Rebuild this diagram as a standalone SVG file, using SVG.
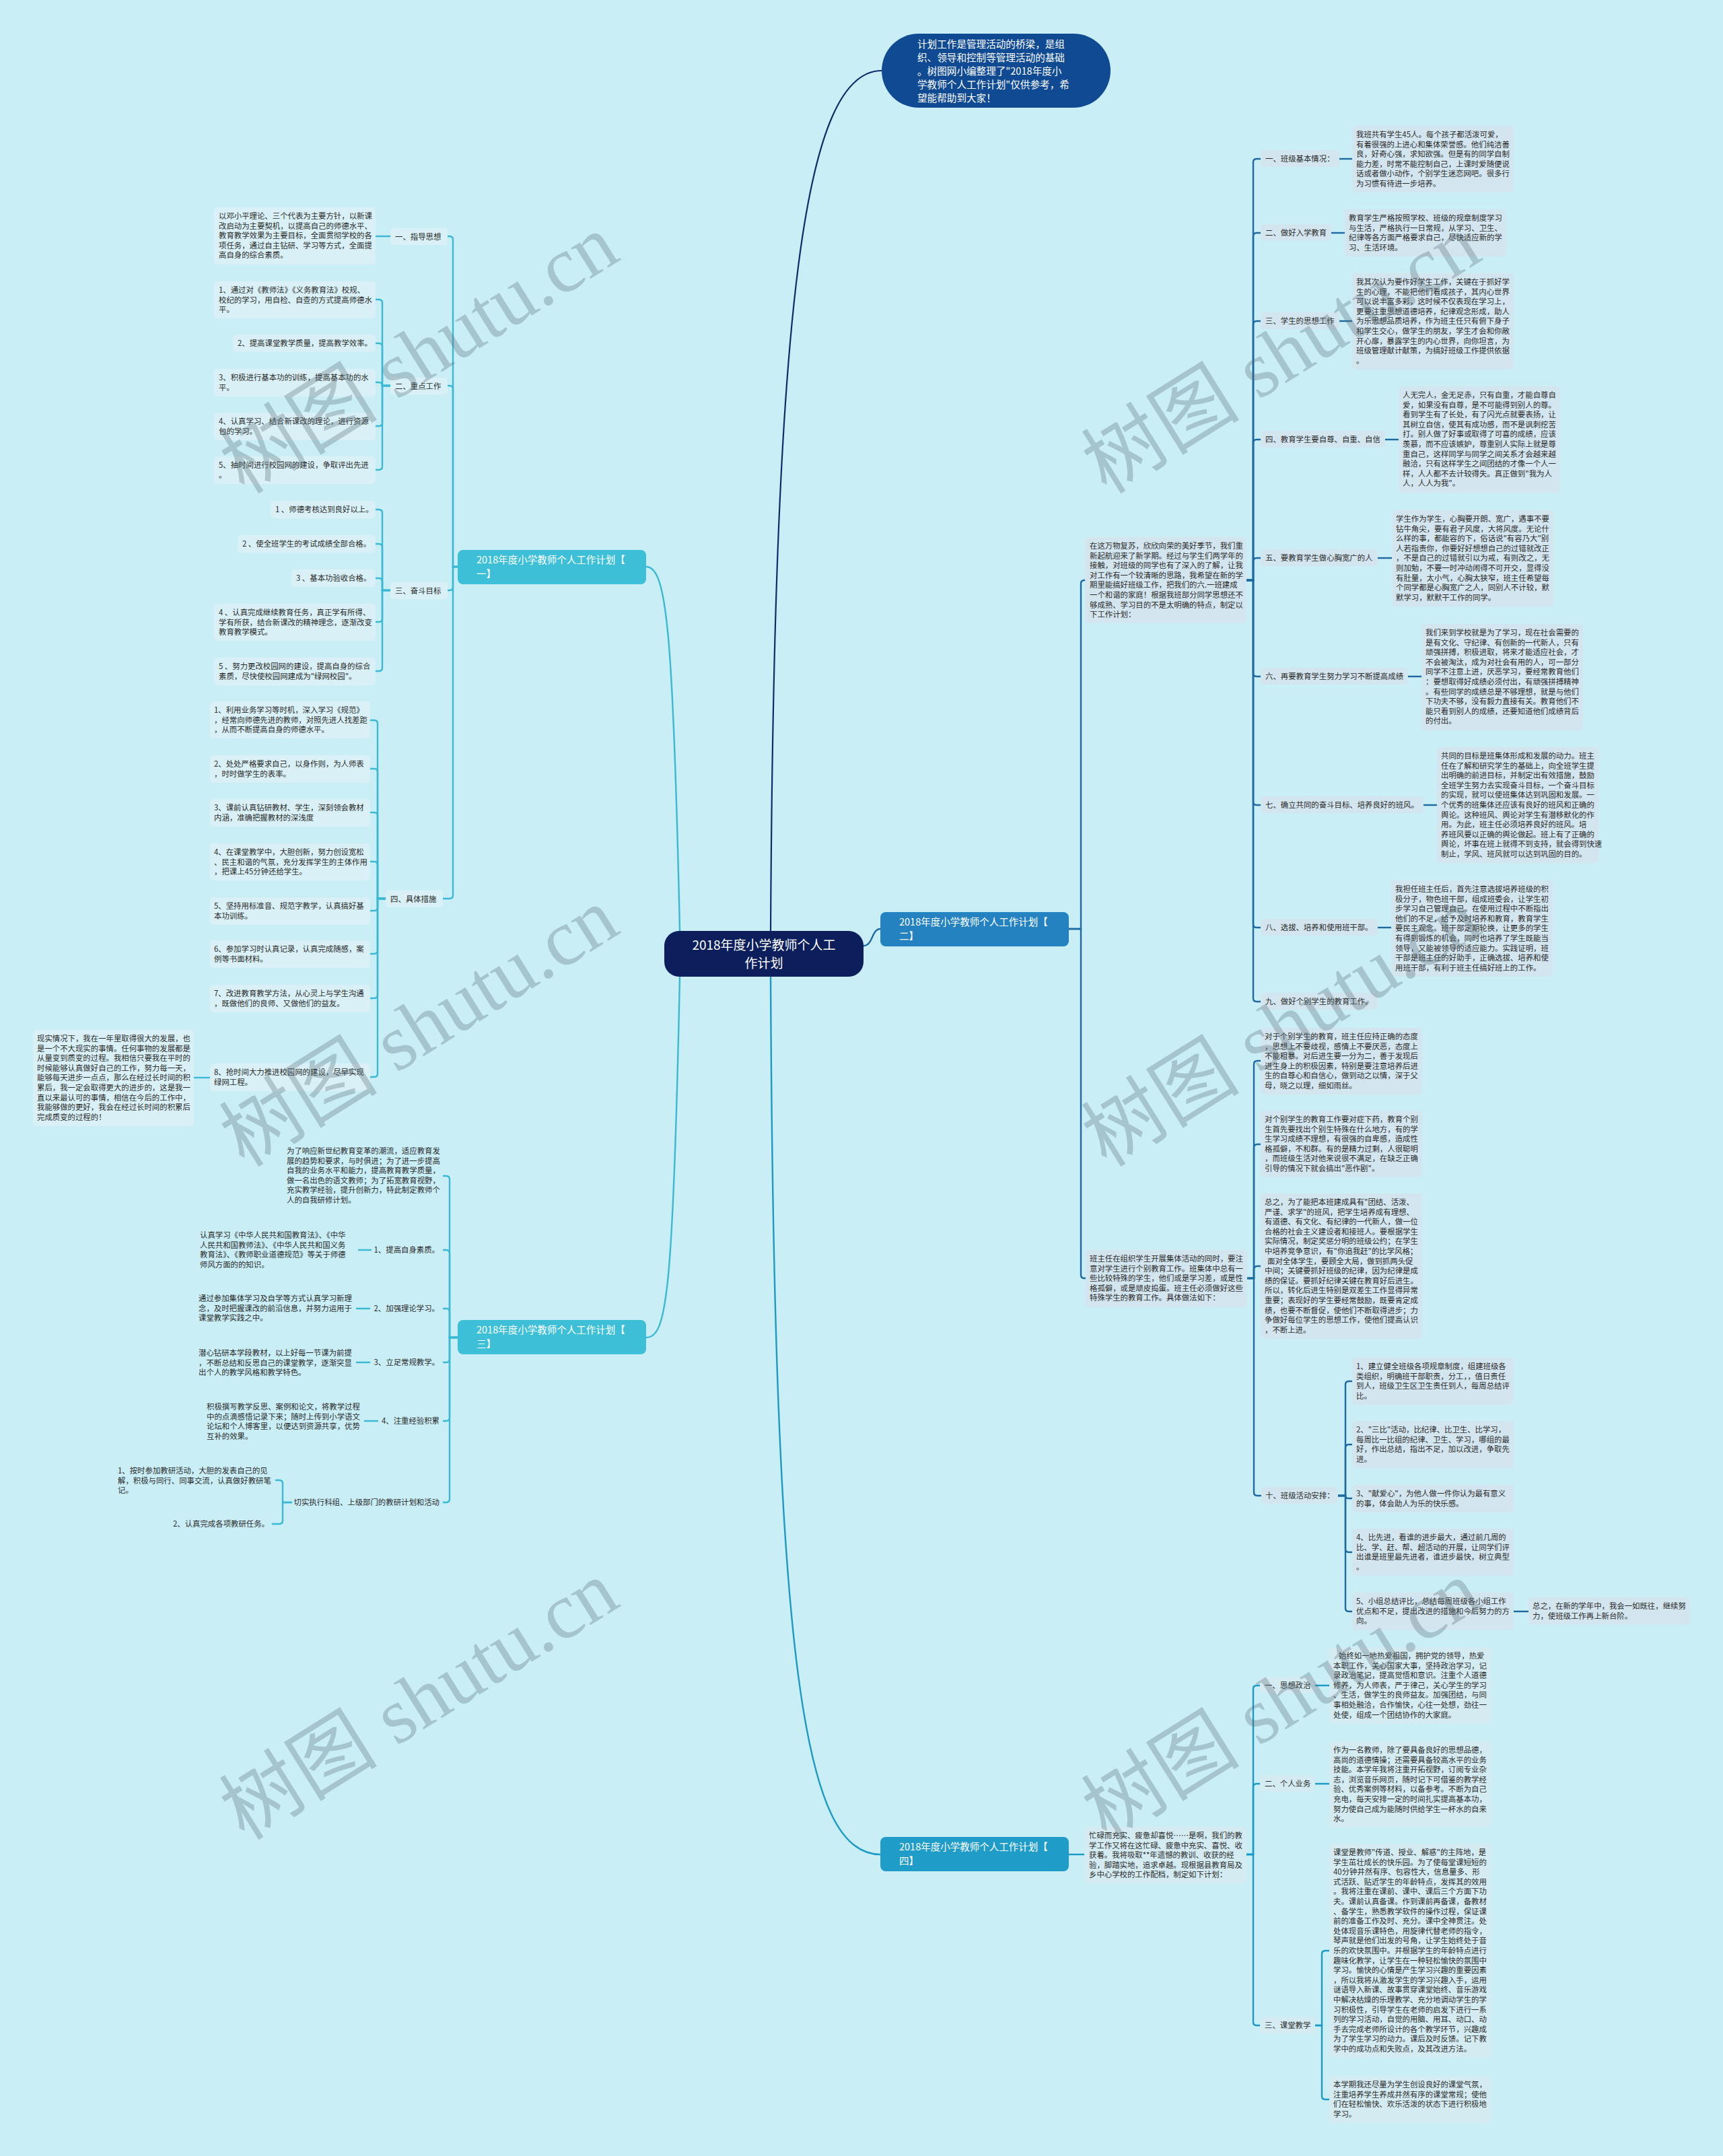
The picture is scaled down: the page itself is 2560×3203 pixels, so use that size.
<svg xmlns="http://www.w3.org/2000/svg" width="2560" height="3203" viewBox="0 0 2560 3203">
<style>
.t{font-family:"Noto Sans CJK SC","Noto Sans",sans-serif;font-size:11.4px;fill:#2b2b2b}
.w{font-family:"Noto Sans CJK SC","Noto Sans",sans-serif;fill:#ffffff}
.bx1{fill:#d9f1f6}
.bx2{fill:#d3e5ee}
.bx4{fill:#d5ebf2}
.c0{fill:none;stroke:#112b6a;stroke-width:2.2}
.c1{fill:none;stroke:#39b9d4;stroke-width:2.4}
.c2{fill:none;stroke:#1c6aa0;stroke-width:2.4}
.c4{fill:none;stroke:#1b9ac5;stroke-width:2.4}
.wm{font-family:"Liberation Serif","Noto Sans CJK SC",serif;font-size:118px;fill:#5a6e78;opacity:.32}
</style>
<rect x="0" y="0" width="2560" height="3203" fill="#c9eef6"/>

<g id="connectors">
<path class="c0" d="M1145,1383 C1150,450 1195,105 1310,105"/>
<path class="c1" d="M1010,1383 C1000,930 990,842 960,842"/>
<path class="c1" d="M1010,1451 C1000,1930 990,1987 960,1987"/>
<path class="c2" d="M1283,1405 C1297,1405 1295,1380 1308,1380"/>
<path class="c4" d="M1145,1451 C1150,2480 1195,2755 1308,2755"/>

<path class="c1" d="M680,842 H673 V356 Q673,351 668,351 H665"/>
<path class="c1" d="M680,842 H673 V578 Q673,573 668,573 H665"/>
<path class="c1" d="M680,842 H673 V872 Q673,877 668,877 H665"/>
<path class="c1" d="M680,842 H673 V1330 Q673,1335 668,1335 H658"/>
<path class="c1" d="M558,351 H580"/>
<path class="c1" d="M580,573 H568 V450 Q568,445 563,445 H558"/>
<path class="c1" d="M580,573 H568 V515 Q568,510 563,510 H558"/>
<path class="c1" d="M580,573 H568 V573 Q568,568 563,568 H558"/>
<path class="c1" d="M580,573 H568 V628 Q568,633 563,633 H558"/>
<path class="c1" d="M580,573 H568 V693 Q568,698 563,698 H558"/>
<path class="c1" d="M580,877 H568 V762 Q568,757 563,757 H558"/>
<path class="c1" d="M580,877 H568 V813 Q568,808 563,808 H558"/>
<path class="c1" d="M580,877 H568 V864 Q568,859 563,859 H558"/>
<path class="c1" d="M580,877 H568 V919 Q568,924 563,924 H558"/>
<path class="c1" d="M580,877 H568 V992 Q568,997 563,997 H558"/>
<path class="c1" d="M573,1335 H561 V1075 Q561,1070 556,1070 H550"/>
<path class="c1" d="M573,1335 H561 V1147 Q561,1142 556,1142 H550"/>
<path class="c1" d="M573,1335 H561 V1212 Q561,1207 556,1207 H550"/>
<path class="c1" d="M573,1335 H561 V1285 Q561,1280 556,1280 H550"/>
<path class="c1" d="M573,1335 H561 V1348 Q561,1353 556,1353 H550"/>
<path class="c1" d="M573,1335 H561 V1412 Q561,1417 556,1417 H550"/>
<path class="c1" d="M573,1335 H561 V1478 Q561,1483 556,1483 H550"/>
<path class="c1" d="M573,1335 H561 V1595 Q561,1600 556,1600 H550"/>
<path class="c1" d="M288,1601 H312"/>

<path class="c1" d="M680,1987 H668 V1752 Q668,1747 663,1747 H658"/>
<path class="c1" d="M680,1987 H668 V1862 Q668,1857 663,1857 H658"/>
<path class="c1" d="M680,1987 H668 V1949 Q668,1944 663,1944 H658"/>
<path class="c1" d="M680,1987 H668 V2019 Q668,2024 663,2024 H658"/>
<path class="c1" d="M680,1987 H668 V2106 Q668,2111 663,2111 H658"/>
<path class="c1" d="M680,1987 H668 V2227 Q668,2232 663,2232 H658"/>
<path class="c1" d="M532,1857 H552"/>
<path class="c1" d="M529,1944 H550"/>
<path class="c1" d="M529,2024 H550"/>
<path class="c1" d="M541,2111 H562"/>
<path class="c1" d="M434,2232 H420 V2204 Q420,2199 415,2199 H409"/>
<path class="c1" d="M434,2232 H420 V2259 Q420,2264 415,2264 H404"/>

<path class="c2" d="M1588,1380 H1606 V867 Q1606,862 1611,862 H1612"/>
<path class="c2" d="M1588,1380 H1606 V1894 Q1606,1899 1611,1899 H1613"/>
<path class="c2" d="M1852,862 H1862 V241 Q1862,236 1867,236 H1873"/>
<path class="c2" d="M1852,862 H1862 V351 Q1862,346 1867,346 H1873"/>
<path class="c2" d="M1852,862 H1862 V482 Q1862,477 1867,477 H1873"/>
<path class="c2" d="M1852,862 H1862 V658 Q1862,653 1867,653 H1873"/>
<path class="c2" d="M1852,862 H1862 V834 Q1862,829 1867,829 H1873"/>
<path class="c2" d="M1852,862 H1862 V1000 Q1862,1005 1867,1005 H1873"/>
<path class="c2" d="M1852,862 H1862 V1191 Q1862,1196 1867,1196 H1873"/>
<path class="c2" d="M1852,862 H1862 V1373 Q1862,1378 1867,1378 H1873"/>
<path class="c2" d="M1852,862 H1862 V1483 Q1862,1488 1867,1488 H1873"/>
<path class="c2" d="M1990,236 H2009"/>
<path class="c2" d="M1978,346 H1998"/>
<path class="c2" d="M1990,477 H2009"/>
<path class="c2" d="M2058,653 H2078"/>
<path class="c2" d="M2047,829 H2068"/>
<path class="c2" d="M2092,1005 H2112"/>
<path class="c2" d="M2115,1196 H2135"/>
<path class="c2" d="M2047,1378 H2067"/>
<path class="c2" d="M1853,1899 H1863 V1581 Q1863,1576 1868,1576 H1873"/>
<path class="c2" d="M1853,1899 H1863 V1705 Q1863,1700 1868,1700 H1873"/>
<path class="c2" d="M1853,1899 H1863 V1886 Q1863,1881 1868,1881 H1873"/>
<path class="c2" d="M1853,1899 H1863 V2217 Q1863,2222 1868,2222 H1874"/>
<path class="c2" d="M1988,2222 H1999 V2057 Q1999,2052 2004,2052 H2009"/>
<path class="c2" d="M1988,2222 H1999 V2151 Q1999,2146 2004,2146 H2009"/>
<path class="c2" d="M1988,2222 H1999 V2222 Q1999,2226 2003,2226 H2009"/>
<path class="c2" d="M1988,2222 H1999 V2301 Q1999,2306 2004,2306 H2009"/>
<path class="c2" d="M1988,2222 H1999 V2389 Q1999,2394 2004,2394 H2009"/>
<path class="c2" d="M2248,2394 H2271"/>

<path class="c4" d="M1588,2755 H1611"/>
<path class="c4" d="M1852,2755 H1862 V2509 Q1862,2504 1867,2504 H1872"/>
<path class="c4" d="M1852,2755 H1862 V2655 Q1862,2650 1867,2650 H1872"/>
<path class="c4" d="M1852,2755 H1862 V3004 Q1862,3009 1867,3009 H1872"/>
<path class="c4" d="M1954,2504 H1975"/>
<path class="c4" d="M1954,2650 H1975"/>
<path class="c4" d="M1954,3009 H1964 V2903 Q1964,2898 1969,2898 H1975"/>
<path class="c4" d="M1954,3009 H1964 V3114 Q1964,3119 1969,3119 H1975"/>
</g>

<g id="center">
<rect x="987" y="1383" width="296" height="68" rx="22" fill="#0c1f5c"/>
<text class="w" font-size="19" text-anchor="middle"><tspan x="1135" y="1411">2018年度小学教师个人工</tspan><tspan x="1135" y="1438">作计划</tspan></text>
</g>

<g id="intro">
<rect x="1310" y="50" width="340" height="110" rx="55" fill="#0f4a92"/>
<text class="w" font-size="14.6"><tspan x="1363" y="71">计划工作是管理活动的桥梁，是组</tspan><tspan x="1363" y="91">织、领导和控制等管理活动的基础</tspan><tspan x="1363" y="111">。树图网小编整理了"2018年度小</tspan><tspan x="1363" y="131">学教师个人工作计划"仅供参考，希</tspan><tspan x="1363" y="151">望能帮助到大家！</tspan></text>
</g>

<g id="b1">
<rect x="680" y="817" width="280" height="51" rx="8" fill="#3dbfd8"/>
<text class="w" font-size="14.5"><tspan x="708" y="837">2018年度小学教师个人工作计划【</tspan><tspan x="708" y="858">一】</tspan></text>
</g>
<g id="b2">
<rect x="1308" y="1355" width="280" height="51" rx="8" fill="#2382bf"/>
<text class="w" font-size="14.5"><tspan x="1336" y="1375">2018年度小学教师个人工作计划【</tspan><tspan x="1336" y="1396">二】</tspan></text>
</g>
<g id="b3">
<rect x="680" y="1961" width="280" height="51" rx="8" fill="#3dbfd8"/>
<text class="w" font-size="14.5"><tspan x="708" y="1981">2018年度小学教师个人工作计划【</tspan><tspan x="708" y="2002">三】</tspan></text>
</g>
<g id="b4">
<rect x="1308" y="2729" width="280" height="51" rx="8" fill="#1f9cc8"/>
<text class="w" font-size="14.5"><tspan x="1336" y="2749">2018年度小学教师个人工作计划【</tspan><tspan x="1336" y="2770">四】</tspan></text>
</g>

<!-- branch 1 -->
<g id="b1-1">
<rect class="bx1" x="580" y="339" width="85" height="25" rx="5"/><text class="t" x="587" y="356">一、指导思想</text>
</g>
<g id="b1-1-a">
<rect class="bx1" x="318" y="308" width="240" height="85" rx="5"/>
<text class="t"><tspan x="325" y="325">以邓小平理论、三个代表为主要方针，以新课</tspan><tspan x="325" dy="14.6">改启动为主要契机，以提高自己的师德水平、</tspan><tspan x="325" dy="14.6">教育教学效果为主要目标，全面贯彻学校的各</tspan><tspan x="325" dy="14.6">项任务，通过自主钻研、学习等方式，全面提</tspan><tspan x="325" dy="14.6">高自身的综合素质。</tspan></text>
</g>
<g id="b1-2">
<rect class="bx1" x="580" y="561" width="85" height="25" rx="5"/><text class="t" x="587" y="578">二、重点工作</text>
</g>
<g id="b1-2-1"><rect class="bx1" x="318" y="418" width="240" height="55" rx="5"/>
<text class="t"><tspan x="325" y="435">1、通过对《教师法》《义务教育法》校规、</tspan><tspan x="325" dy="14.6">校纪的学习，用自检、自查的方式提高师德水</tspan><tspan x="325" dy="14.6">平。</tspan></text></g>
<g id="b1-2-2"><rect class="bx1" x="346" y="497" width="212" height="26" rx="5"/>
<text class="t" x="353" y="514">2、提高课堂教学质量，提高教学效率。</text></g>
<g id="b1-2-3"><rect class="bx1" x="318" y="548" width="240" height="41" rx="5"/>
<text class="t"><tspan x="325" y="565">3、积极进行基本功的训练，提高基本功的水</tspan><tspan x="325" dy="14.6">平。</tspan></text></g>
<g id="b1-2-4"><rect class="bx1" x="318" y="613" width="240" height="41" rx="5"/>
<text class="t"><tspan x="325" y="630">4、认真学习、结合新课改的理论，进行资源</tspan><tspan x="325" dy="14.6">包的学习。</tspan></text></g>
<g id="b1-2-5"><rect class="bx1" x="318" y="678" width="240" height="41" rx="5"/>
<text class="t"><tspan x="325" y="695">5、抽时间进行校园网的建设，争取评出先进</tspan><tspan x="325" dy="14.6">。</tspan></text></g>

<g id="b1-3">
<rect class="bx1" x="580" y="865" width="85" height="25" rx="5"/><text class="t" x="587" y="882">三、奋斗目标</text>
</g>
<g id="b1-3-1"><rect class="bx1" x="402" y="744" width="156" height="26" rx="5"/>
<text class="t" x="409" y="761">1 、师德考核达到良好以上。</text></g>
<g id="b1-3-2"><rect class="bx1" x="353" y="795" width="205" height="26" rx="5"/>
<text class="t" x="360" y="812">2 、使全班学生的考试成绩全部合格。</text></g>
<g id="b1-3-3"><rect class="bx1" x="433" y="846" width="125" height="26" rx="5"/>
<text class="t" x="440" y="863">3 、基本功验收合格。</text></g>
<g id="b1-3-4"><rect class="bx1" x="318" y="897" width="240" height="55" rx="5"/>
<text class="t"><tspan x="325" y="914">4 、认真完成继续教育任务，真正学有所得、</tspan><tspan x="325" dy="14.6">学有所获，结合新课改的精神理念，逐渐改变</tspan><tspan x="325" dy="14.6">教育教学模式。</tspan></text></g>
<g id="b1-3-5"><rect class="bx1" x="318" y="977" width="240" height="41" rx="5"/>
<text class="t"><tspan x="325" y="994">5 、努力更改校园网的建设，提高自身的综合</tspan><tspan x="325" dy="14.6">素质，尽快使校园网建成为"绿网校园"。</tspan></text></g>

<g id="b1-4">
<rect class="bx1" x="573" y="1323" width="85" height="25" rx="5"/><text class="t" x="580" y="1340">四、具体措施</text>
</g>
<g id="b1-4-1"><rect class="bx1" x="312" y="1042" width="238" height="55" rx="5"/>
<text class="t"><tspan x="318" y="1059">1、利用业务学习等时机，深入学习《规范》</tspan><tspan x="318" dy="14.6">，经常向师德先进的教师，对照先进人找差距</tspan><tspan x="318" dy="14.6">，从而不断提高自身的师德水平。</tspan></text></g>
<g id="b1-4-2"><rect class="bx1" x="312" y="1122" width="238" height="41" rx="5"/>
<text class="t"><tspan x="318" y="1139">2、处处严格要求自己，以身作则，为人师表</tspan><tspan x="318" dy="14.6">，时时做学生的表率。</tspan></text></g>
<g id="b1-4-3"><rect class="bx1" x="312" y="1187" width="238" height="41" rx="5"/>
<text class="t"><tspan x="318" y="1204">3、课前认真钻研教材、学生，深刻领会教材</tspan><tspan x="318" dy="14.6">内涵，准确把握教材的深浅度</tspan></text></g>
<g id="b1-4-4"><rect class="bx1" x="312" y="1253" width="238" height="55" rx="5"/>
<text class="t"><tspan x="318" y="1270">4、在课堂教学中，大胆创新，努力创设宽松</tspan><tspan x="318" dy="14.6">、民主和谐的气氛，充分发挥学生的主体作用</tspan><tspan x="318" dy="14.6">，把课上45分钟还给学生。</tspan></text></g>
<g id="b1-4-5"><rect class="bx1" x="312" y="1333" width="238" height="41" rx="5"/>
<text class="t"><tspan x="318" y="1350">5、坚持用标准音、规范字教学，认真搞好基</tspan><tspan x="318" dy="14.6">本功训练。</tspan></text></g>
<g id="b1-4-6"><rect class="bx1" x="312" y="1397" width="238" height="41" rx="5"/>
<text class="t"><tspan x="318" y="1414">6、参加学习时认真记录，认真完成随感，案</tspan><tspan x="318" dy="14.6">例等书面材料。</tspan></text></g>
<g id="b1-4-7"><rect class="bx1" x="312" y="1463" width="238" height="41" rx="5"/>
<text class="t"><tspan x="318" y="1480">7、改进教育教学方法，从心灵上与学生沟通</tspan><tspan x="318" dy="14.6">，既做他们的良师、又做他们的益友。</tspan></text></g>
<g id="b1-4-8"><rect class="bx1" x="312" y="1580" width="238" height="41" rx="5"/>
<text class="t"><tspan x="318" y="1597">8、抢时间大力推进校园网的建设，尽早实现</tspan><tspan x="318" dy="14.6">绿网工程。</tspan></text></g>
<g id="b1-4-8-a"><rect class="bx1" x="49" y="1530" width="239" height="143" rx="5"/>
<text class="t"><tspan x="55" y="1547">现实情况下，我在一年里取得很大的发展，也</tspan><tspan x="55" dy="14.6">是一个不大现实的事情。任何事物的发展都是</tspan><tspan x="55" dy="14.6">从量变到质变的过程。我相信只要我在平时的</tspan><tspan x="55" dy="14.6">时候能够认真做好自己的工作，努力每一天，</tspan><tspan x="55" dy="14.6">能够每天进步一点点，那么在经过长时间的积</tspan><tspan x="55" dy="14.6">累后，我一定会取得更大的进步的，这是我一</tspan><tspan x="55" dy="14.6">直以来最认可的事情，相信在今后的工作中，</tspan><tspan x="55" dy="14.6">我能够做的更好，我会在经过长时间的积累后</tspan><tspan x="55" dy="14.6">完成质变的过程的！</tspan></text></g>

<!-- branch 3 -->
<g id="b3-0"><text class="t"><tspan x="426" y="1714">为了响应新世纪教育变革的潮流，适应教育发</tspan><tspan x="426" dy="14.6">展的趋势和要求，与时俱进；为了进一步提高</tspan><tspan x="426" dy="14.6">自我的业务水平和能力，提高教育教学质量，</tspan><tspan x="426" dy="14.6">做一名出色的语文教师；为了拓宽教育视野，</tspan><tspan x="426" dy="14.6">充实教学经验，提升创新力，特此制定教师个</tspan><tspan x="426" dy="14.6">人的自我研修计划。</tspan></text></g>
<g id="b3-1"><text class="t" x="653" y="1861" text-anchor="end">1、提高自身素质。</text></g>
<g id="b3-1-a"><text class="t"><tspan x="297" y="1839">认真学习《中华人民共和国教育法》、《中华</tspan><tspan x="297" dy="14.6">人民共和国教师法》、《中华人民共和国义务</tspan><tspan x="297" dy="14.6">教育法》、《教师职业道德规范》等关于师德</tspan><tspan x="297" dy="14.6">师风方面的的知识。</tspan></text></g>
<g id="b3-2"><text class="t" x="653" y="1948" text-anchor="end">2、加强理论学习。</text></g>
<g id="b3-2-a"><text class="t"><tspan x="295" y="1933">通过参加集体学习及自学等方式认真学习新理</tspan><tspan x="295" dy="14.6">念，及时把握课改的前沿信息，并努力运用于</tspan><tspan x="295" dy="14.6">课堂教学实践之中。</tspan></text></g>
<g id="b3-3"><text class="t" x="653" y="2028" text-anchor="end">3、立足常规教学。</text></g>
<g id="b3-3-a"><text class="t"><tspan x="295" y="2014">潜心钻研本学段教材，以上好每一节课为前提</tspan><tspan x="295" dy="14.6">，不断总结和反思自己的课堂教学，逐渐突显</tspan><tspan x="295" dy="14.6">出个人的教学风格和教学特色。</tspan></text></g>
<g id="b3-4"><text class="t" x="653" y="2115" text-anchor="end">4、注重经验积累</text></g>
<g id="b3-4-a"><text class="t"><tspan x="307" y="2094">积极撰写教学反思、案例和论文，将教学过程</tspan><tspan x="307" dy="14.6">中的点滴感悟记录下来；随时上传到小学语文</tspan><tspan x="307" dy="14.6">论坛和个人博客里，以便达到资源共享，优势</tspan><tspan x="307" dy="14.6">互补的效果。</tspan></text></g>
<g id="b3-5"><text class="t" x="653" y="2236" text-anchor="end">切实执行科组、上级部门的教研计划和活动</text></g>
<g id="b3-5-1"><text class="t"><tspan x="175" y="2189">1、按时参加教研活动，大胆的发表自己的见</tspan><tspan x="175" dy="14.6">解，积极与同行、同事交流，认真做好教研笔</tspan><tspan x="175" dy="14.6">记。</tspan></text></g>
<g id="b3-5-2"><text class="t" x="400" y="2268" text-anchor="end">2、认真完成各项教研任务。</text></g>

<!-- branch 2 -->
<g id="b2-0"><rect class="bx2" x="1612" y="798" width="240" height="128" rx="5"/>
<text class="t"><tspan x="1619" y="815">在这万物复苏，欣欣向荣的美好季节，我们重</tspan><tspan x="1619" dy="14.6">新起航迎来了新学期。经过与学生们两学年的</tspan><tspan x="1619" dy="14.6">接触，对班级的同学也有了深入的了解，让我</tspan><tspan x="1619" dy="14.6">对工作有一个较清晰的思路，我希望在新的学</tspan><tspan x="1619" dy="14.6">期里能搞好班级工作，把我们的六.一班建成</tspan><tspan x="1619" dy="14.6">一个和谐的家庭！根据我班部分同学思想还不</tspan><tspan x="1619" dy="14.6">够成熟、学习目的不是太明确的特点，制定以</tspan><tspan x="1619" dy="14.6">下工作计划：</tspan></text></g>
<g id="b2-1"><rect class="bx2" x="1873" y="223" width="117" height="25" rx="5"/><text class="t" x="1880" y="240">一、班级基本情况：</text></g>
<g id="b2-1-a"><rect class="bx2" x="2009" y="187" width="240" height="99" rx="5"/>
<text class="t"><tspan x="2015" y="204">我班共有学生45人。每个孩子都活泼可爱，</tspan><tspan x="2015" dy="14.6">有着很强的上进心和集体荣誉感。他们纯洁善</tspan><tspan x="2015" dy="14.6">良，好奇心强，求知欲强。但是有的同学自制</tspan><tspan x="2015" dy="14.6">能力差，时常不能控制自己，上课时爱随便说</tspan><tspan x="2015" dy="14.6">话或者做小动作，个别学生迷恋网吧。很多行</tspan><tspan x="2015" dy="14.6">为习惯有待进一步培养。</tspan></text></g>
<g id="b2-2"><rect class="bx2" x="1873" y="333" width="105" height="25" rx="5"/><text class="t" x="1880" y="350">二、做好入学教育</text></g>
<g id="b2-2-a"><rect class="bx2" x="1998" y="311" width="240" height="70" rx="5"/>
<text class="t"><tspan x="2004" y="328">教育学生严格按照学校、班级的规章制度学习</tspan><tspan x="2004" dy="14.6">与生活，严格执行一日常规，从学习、卫生、</tspan><tspan x="2004" dy="14.6">纪律等各方面严格要求自己，尽快适应新的学</tspan><tspan x="2004" dy="14.6">习、生活环境。</tspan></text></g>
<g id="b2-3"><rect class="bx2" x="1873" y="464" width="117" height="25" rx="5"/><text class="t" x="1880" y="481">三、学生的思想工作</text></g>
<g id="b2-3-a"><rect class="bx2" x="2009" y="406" width="240" height="143" rx="5"/>
<text class="t"><tspan x="2015" y="423">我其次认为要作好学生工作，关键在于抓好学</tspan><tspan x="2015" dy="14.6">生的心理，不能把他们看成孩子，其内心世界</tspan><tspan x="2015" dy="14.6">可以说丰富多彩，这时候不仅表现在学习上，</tspan><tspan x="2015" dy="14.6">更要注重思想道德培养，纪律观念形成，助人</tspan><tspan x="2015" dy="14.6">为乐思想品质培养，作为班主任只有俯下身子</tspan><tspan x="2015" dy="14.6">和学生交心，做学生的朋友，学生才会和你敞</tspan><tspan x="2015" dy="14.6">开心扉，暴露学生的内心世界，向你坦言，为</tspan><tspan x="2015" dy="14.6">班级管理献计献策，为搞好班级工作提供依据</tspan><tspan x="2015" dy="14.6">。</tspan></text></g>
<g id="b2-4"><rect class="bx2" x="1873" y="640" width="185" height="25" rx="5"/><text class="t" x="1880" y="657">四、教育学生要自尊、自重、自信</text></g>
<g id="b2-4-a"><rect class="bx2" x="2078" y="574" width="240" height="158" rx="5"/>
<text class="t"><tspan x="2084" y="591">人无完人，金无足赤，只有自重，才能自尊自</tspan><tspan x="2084" dy="14.6">爱，如果没有自尊，是不可能得到别人的尊。</tspan><tspan x="2084" dy="14.6">看到学生有了长处，有了闪光点就要表扬，让</tspan><tspan x="2084" dy="14.6">其树立自信，使其有成功感，而不是讽刺挖苦</tspan><tspan x="2084" dy="14.6">打。别人做了好事或取得了可喜的成绩，应该</tspan><tspan x="2084" dy="14.6">羡慕，而不应该嫉妒，尊重别人实际上就是尊</tspan><tspan x="2084" dy="14.6">重自己，这样同学与同学之间关系才会越来越</tspan><tspan x="2084" dy="14.6">融洽，只有这样学生之间团结的才像一个人一</tspan><tspan x="2084" dy="14.6">样，人人都不去计较得失。真正做到"我为人</tspan><tspan x="2084" dy="14.6">人，人人为我"。</tspan></text></g>
<g id="b2-5"><rect class="bx2" x="1873" y="816" width="174" height="25" rx="5"/><text class="t" x="1880" y="833">五、要教育学生做心胸宽广的人</text></g>
<g id="b2-5-a"><rect class="bx2" x="2068" y="758" width="240" height="143" rx="5"/>
<text class="t"><tspan x="2074" y="775">学生作为学生，心胸要开朗、宽广，遇事不要</tspan><tspan x="2074" dy="14.6">钻牛角尖，要有君子风度，大将风度。无论什</tspan><tspan x="2074" dy="14.6">么样的事，都能容的下，俗话说"有容乃大"别</tspan><tspan x="2074" dy="14.6">人若指责你，你要好好想想自己的过错就改正</tspan><tspan x="2074" dy="14.6">，不是自己的过错就引以为戒，有则改之，无</tspan><tspan x="2074" dy="14.6">则加勉，不要一时冲动闹得不可开交，显得没</tspan><tspan x="2074" dy="14.6">有肚量，太小气，心胸太狭窄，班主任希望每</tspan><tspan x="2074" dy="14.6">个同学都是心胸宽广之人，同别人不计较，默</tspan><tspan x="2074" dy="14.6">默学习，默默干工作的同学。</tspan></text></g>
<g id="b2-6"><rect class="bx2" x="1873" y="992" width="219" height="25" rx="5"/><text class="t" x="1880" y="1009">六、再要教育学生努力学习不断提高成绩</text></g>
<g id="b2-6-a"><rect class="bx2" x="2112" y="927" width="240" height="158" rx="5"/>
<text class="t"><tspan x="2118" y="944">我们来到学校就是为了学习，现在社会需要的</tspan><tspan x="2118" dy="14.6">是有文化、守纪律、有创新的一代新人，只有</tspan><tspan x="2118" dy="14.6">顽强拼搏，积极进取，将来才能适应社会，才</tspan><tspan x="2118" dy="14.6">不会被淘汰，成为对社会有用的人，可一部分</tspan><tspan x="2118" dy="14.6">同学不注意上进，厌恶学习，要经常教育他们</tspan><tspan x="2118" dy="14.6">：要想取得好成绩必须付出，有顽强拼搏精神</tspan><tspan x="2118" dy="14.6">。有些同学的成绩总是不够理想，就是与他们</tspan><tspan x="2118" dy="14.6">下功夫不够，没有毅力直接有关。教育他们不</tspan><tspan x="2118" dy="14.6">能只看到别人的成绩，还要知道他们成绩背后</tspan><tspan x="2118" dy="14.6">的付出。</tspan></text></g>
<g id="b2-7"><rect class="bx2" x="1873" y="1183" width="242" height="25" rx="5"/><text class="t" x="1880" y="1200">七、确立共同的奋斗目标、培养良好的班风。</text></g>
<g id="b2-7-a"><rect class="bx2" x="2135" y="1110" width="240" height="172" rx="5"/>
<text class="t"><tspan x="2141" y="1127">共同的目标是班集体形成和发展的动力。班主</tspan><tspan x="2141" dy="14.6">任在了解和研究学生的基础上，向全班学生提</tspan><tspan x="2141" dy="14.6">出明确的前进目标，并制定出有效措施，鼓励</tspan><tspan x="2141" dy="14.6">全班学生努力去实现奋斗目标，一个奋斗目标</tspan><tspan x="2141" dy="14.6">的实现，就可以使班集体达到巩固和发展。一</tspan><tspan x="2141" dy="14.6">个优秀的班集体还应该有良好的班风和正确的</tspan><tspan x="2141" dy="14.6">舆论。这种班风、舆论对学生有潜移默化的作</tspan><tspan x="2141" dy="14.6">用。为此，班主任必须培养良好的班风。培</tspan><tspan x="2141" dy="14.6">养班风要以正确的舆论做起。班上有了正确的</tspan><tspan x="2141" dy="14.6">舆论，坏事在班上就得不到支持，就会得到快速</tspan><tspan x="2141" dy="14.6">制止，学风、班风就可以达到巩固的目的。</tspan></text></g>
<g id="b2-8"><rect class="bx2" x="1873" y="1365" width="174" height="25" rx="5"/><text class="t" x="1880" y="1382">八、选拔、培养和使用班干部。</text></g>
<g id="b2-8-a"><rect class="bx2" x="2067" y="1308" width="240" height="143" rx="5"/>
<text class="t"><tspan x="2073" y="1325">我担任班主任后，首先注意选拔培养班级的积</tspan><tspan x="2073" dy="14.6">极分子，物色班干部，组成班委会，让学生初</tspan><tspan x="2073" dy="14.6">步学习自己管理自己。在使用过程中不断指出</tspan><tspan x="2073" dy="14.6">他们的不足，给予及时培养和教育，教育学生</tspan><tspan x="2073" dy="14.6">要民主观念。班干部定期轮换，让更多的学生</tspan><tspan x="2073" dy="14.6">有得到锻炼的机会，同时也培养了学生既能当</tspan><tspan x="2073" dy="14.6">领导，又能被领导的适应能力。实践证明，班</tspan><tspan x="2073" dy="14.6">干部是班主任的好助手，正确选拔、培养和使</tspan><tspan x="2073" dy="14.6">用班干部，有利于班主任搞好班上的工作。</tspan></text></g>
<g id="b2-9"><rect class="bx2" x="1873" y="1475" width="174" height="25" rx="5"/><text class="t" x="1880" y="1492">九、做好个别学生的教育工作。</text></g>

<g id="b2-10"><rect class="bx2" x="1613" y="1857" width="240" height="85" rx="5"/>
<text class="t"><tspan x="1619" y="1874">班主任在组织学生开展集体活动的同时，要注</tspan><tspan x="1619" dy="14.6">意对学生进行个别教育工作。班集体中总有一</tspan><tspan x="1619" dy="14.6">些比较特殊的学生，他们或是学习差，或是性</tspan><tspan x="1619" dy="14.6">格孤僻，或是顽皮捣蛋。班主任必须做好这些</tspan><tspan x="1619" dy="14.6">特殊学生的教育工作。具体做法如下：</tspan></text></g>
<g id="b2-10-a"><rect class="bx2" x="1873" y="1527" width="240" height="99" rx="5"/>
<text class="t"><tspan x="1879" y="1544">对于个别学生的教育，班主任应持正确的态度</tspan><tspan x="1879" dy="14.6">，思想上不要歧视，感情上不要厌恶，态度上</tspan><tspan x="1879" dy="14.6">不能粗暴。对后进生要一分为二，善于发现后</tspan><tspan x="1879" dy="14.6">进生身上的积极因素，特别是要注意培养后进</tspan><tspan x="1879" dy="14.6">生的自尊心和自信心，做到动之以情，深于父</tspan><tspan x="1879" dy="14.6">母，晓之以理，细如雨丝。</tspan></text></g>
<g id="b2-10-b"><rect class="bx2" x="1873" y="1650" width="240" height="99" rx="5"/>
<text class="t"><tspan x="1879" y="1667">对个别学生的教育工作要对症下药，教育个别</tspan><tspan x="1879" dy="14.6">生首先要找出个别生特殊在什么地方，有的学</tspan><tspan x="1879" dy="14.6">生学习成绩不理想，有很强的自卑感，造成性</tspan><tspan x="1879" dy="14.6">格孤僻，不和群。有的是精力过剩，人很聪明</tspan><tspan x="1879" dy="14.6">，而班级生活对他来说很不满足，在缺乏正确</tspan><tspan x="1879" dy="14.6">引导的情况下就会搞出"恶作剧"。</tspan></text></g>
<g id="b2-10-c"><rect class="bx2" x="1873" y="1773" width="240" height="216" rx="5"/>
<text class="t"><tspan x="1879" y="1790">总之，为了能把本班建成具有"团结、活泼、</tspan><tspan x="1879" dy="14.6">严谨、求学"的班风，把学生培养成有理想、</tspan><tspan x="1879" dy="14.6">有道德、有文化、有纪律的一代新人，做一位</tspan><tspan x="1879" dy="14.6">合格的社会主义建设者和接班人。要根据学生</tspan><tspan x="1879" dy="14.6">实际情况，制定奖惩分明的班级公约；在学生</tspan><tspan x="1879" dy="14.6">中培养竞争意识，有"你追我赶"的比学风格；</tspan><tspan x="1883" dy="14.6">面对全体学生，要顾全大局，做到抓两头促</tspan><tspan x="1879" dy="14.6">中间；关键要抓好班级的纪律，因为纪律是成</tspan><tspan x="1879" dy="14.6">绩的保证。要抓好纪律关键在教育好后进生。</tspan><tspan x="1879" dy="14.6">所以，转化后进生特别是双差生工作显得异常</tspan><tspan x="1879" dy="14.6">重要；表现好的学生要经常鼓励，既要肯定成</tspan><tspan x="1879" dy="14.6">绩，也要不断督促，使他们不断取得进步；力</tspan><tspan x="1879" dy="14.6">争做好每位学生的思想工作，使他们提高认识</tspan><tspan x="1879" dy="14.6">，不断上进。</tspan></text></g>
<g id="b2-11"><rect class="bx2" x="1874" y="2209" width="114" height="25" rx="5"/><text class="t" x="1880" y="2226">十、班级活动安排：</text></g>
<g id="b2-11-1"><rect class="bx2" x="2009" y="2017" width="240" height="70" rx="5"/>
<text class="t"><tspan x="2015" y="2034">1、建立健全班级各项规章制度，组建班级各</tspan><tspan x="2015" dy="14.6">类组织，明确班干部职责，分工，，值日责任</tspan><tspan x="2015" dy="14.6">到人，班级卫生区卫生责任到人，每周总结评</tspan><tspan x="2015" dy="14.6">比。</tspan></text></g>
<g id="b2-11-2"><rect class="bx2" x="2009" y="2111" width="240" height="70" rx="5"/>
<text class="t"><tspan x="2015" y="2128">2、"三比"活动，比纪律、比卫生、比学习，</tspan><tspan x="2015" dy="14.6">每周比一比组的纪律、卫生、学习，哪组的最</tspan><tspan x="2015" dy="14.6">好，作出总结，指出不足，加以改进，争取先</tspan><tspan x="2015" dy="14.6">进。</tspan></text></g>
<g id="b2-11-3"><rect class="bx2" x="2009" y="2206" width="240" height="41" rx="5"/>
<text class="t"><tspan x="2015" y="2223">3、"献爱心"，为他人做一件你认为最有意义</tspan><tspan x="2015" dy="14.6">的事，体会助人为乐的快乐感。</tspan></text></g>
<g id="b2-11-4"><rect class="bx2" x="2009" y="2271" width="240" height="70" rx="5"/>
<text class="t"><tspan x="2015" y="2288">4、比先进，看谁的进步最大，通过前几周的</tspan><tspan x="2015" dy="14.6">比、学、赶、帮、超活动的开展，让同学们评</tspan><tspan x="2015" dy="14.6">出谁是班里最先进者，谁进步最快，树立典型</tspan><tspan x="2015" dy="14.6">。</tspan></text></g>
<g id="b2-11-5"><rect class="bx2" x="2009" y="2366" width="240" height="56" rx="5"/>
<text class="t"><tspan x="2015" y="2383">5、小组总结评比，总结每周班级各小组工作</tspan><tspan x="2015" dy="14.6">优点和不足，提出改进的措施和今后努力的方</tspan><tspan x="2015" dy="14.6">向。</tspan></text></g>
<g id="b2-11-5-a"><rect class="bx2" x="2271" y="2373" width="240" height="41" rx="5"/>
<text class="t"><tspan x="2277" y="2390">总之，在新的学年中，我会一如既往，继续努</tspan><tspan x="2277" dy="14.6">力，使班级工作再上新台阶。</tspan></text></g>

<!-- branch 4 -->
<g id="b4-0"><rect class="bx4" x="1611" y="2714" width="241" height="84" rx="5"/>
<text class="t"><tspan x="1618" y="2731">忙碌而充实、疲惫却喜悦……是啊，我们的教</tspan><tspan x="1618" dy="14.6">学工作又将在这忙碌、疲惫中充实、喜悦、收</tspan><tspan x="1618" dy="14.6">获着。我将吸取**年遗憾的教训、收获的经</tspan><tspan x="1618" dy="14.6">验，脚踏实地，追求卓越。现根据县教育局及</tspan><tspan x="1618" dy="14.6">乡中心学校的工作配档，制定如下计划：</tspan></text></g>
<g id="b4-1"><rect class="bx4" x="1872" y="2491" width="82" height="25" rx="5"/><text class="t" x="1879" y="2508">一、思想政治</text></g>
<g id="b4-1-a"><rect class="bx4" x="1975" y="2447" width="240" height="114" rx="5"/>
<text class="t"><tspan x="1989" y="2464">始终如一地热爱祖国，拥护党的领导，热爱</tspan><tspan x="1981" dy="14.6">本职工作，关心国家大事，坚持政治学习，记</tspan><tspan x="1981" dy="14.6">录政治笔记，提高觉悟和意识。注重个人道德</tspan><tspan x="1981" dy="14.6">修养，为人师表，严于律己，关心学生的学习</tspan><tspan x="1981" dy="14.6">、生活，做学生的良师益友。加强团结，与同</tspan><tspan x="1981" dy="14.6">事相处融洽，合作愉快，心往一处想，劲往一</tspan><tspan x="1981" dy="14.6">处使，组成一个团结协作的大家庭。</tspan></text></g>
<g id="b4-2"><rect class="bx4" x="1872" y="2637" width="82" height="25" rx="5"/><text class="t" x="1879" y="2654">二、个人业务</text></g>
<g id="b4-2-a"><rect class="bx4" x="1975" y="2587" width="240" height="128" rx="5"/>
<text class="t"><tspan x="1981" y="2604">作为一名教师，除了要具备良好的思想品德，</tspan><tspan x="1981" dy="14.6">高尚的道德情操；还需要具备较高水平的业务</tspan><tspan x="1981" dy="14.6">技能。本学年我将注重开拓视野，订阅专业杂</tspan><tspan x="1981" dy="14.6">志，浏览音乐网页，随时记下可借鉴的教学经</tspan><tspan x="1981" dy="14.6">验、优秀案例等材料，以备参考。不断为自己</tspan><tspan x="1981" dy="14.6">充电，每天安排一定的时间扎实提高基本功，</tspan><tspan x="1981" dy="14.6">努力使自己成为能随时供给学生一杯水的自来</tspan><tspan x="1981" dy="14.6">水。</tspan></text></g>
<g id="b4-3"><rect class="bx4" x="1872" y="2996" width="82" height="25" rx="5"/><text class="t" x="1879" y="3013">三、课堂教学</text></g>
<g id="b4-3-a"><rect class="bx4" x="1975" y="2739" width="240" height="318" rx="5"/>
<text class="t"><tspan x="1981" y="2756">课堂是教师"传道、授业、解惑"的主阵地，是</tspan><tspan x="1981" dy="14.6">学生茁壮成长的快乐园。为了使每堂课短短的</tspan><tspan x="1981" dy="14.6">40分钟井然有序、包容性大，信息量多、形</tspan><tspan x="1981" dy="14.6">式活跃、贴近学生的年龄特点，发挥其的效用</tspan><tspan x="1981" dy="14.6">。我将注重在课前、课中、课后三个方面下功</tspan><tspan x="1981" dy="14.6">夫。课前认真备课。作到课前再备课，备教材</tspan><tspan x="1981" dy="14.6">、备学生，熟悉教学软件的操作过程，保证课</tspan><tspan x="1981" dy="14.6">前的准备工作及时、充分。课中全神贯注。处</tspan><tspan x="1981" dy="14.6">处体现音乐课特色，用旋律代替老师的指令，</tspan><tspan x="1981" dy="14.6">琴声就是他们出发的号角，让学生始终处于音</tspan><tspan x="1981" dy="14.6">乐的欢快氛围中。并根据学生的年龄特点进行</tspan><tspan x="1981" dy="14.6">趣味化教学，让学生在一种轻松愉快的氛围中</tspan><tspan x="1981" dy="14.6">学习。愉快的心情是产生学习兴趣的重要因素</tspan><tspan x="1981" dy="14.6">，所以我将从激发学生的学习兴趣入手，运用</tspan><tspan x="1981" dy="14.6">谜语导入新课、故事贯穿课堂始终、音乐游戏</tspan><tspan x="1981" dy="14.6">中解决枯燥的乐理教学、充分地调动学生的学</tspan><tspan x="1981" dy="14.6">习积极性，引导学生在老师的启发下进行一系</tspan><tspan x="1981" dy="14.6">列的学习活动，自觉的用脑、用耳、动口、动</tspan><tspan x="1981" dy="14.6">手去完成老师所设计的各个教学环节，兴趣成</tspan><tspan x="1981" dy="14.6">为了学生学习的动力。课后及时反馈。记下教</tspan><tspan x="1981" dy="14.6">学中的成功点和失败点，及其改进方法。</tspan></text></g>
<g id="b4-3-b"><rect class="bx4" x="1975" y="3084" width="240" height="70" rx="5"/>
<text class="t"><tspan x="1981" y="3101">本学期我还尽量为学生创设良好的课堂气氛，</tspan><tspan x="1981" dy="14.6">注重培养学生养成井然有序的课堂常规；使他</tspan><tspan x="1981" dy="14.6">们在轻松愉快、欢乐活泼的状态下进行积极地</tspan><tspan x="1981" dy="14.6">学习。</tspan></text></g>

<g id="watermark">
<text class="wm" text-anchor="middle" transform="translate(644,560) rotate(-32)">树图 shutu.cn</text>
<text class="wm" text-anchor="middle" transform="translate(644,1560) rotate(-32)">树图 shutu.cn</text>
<text class="wm" text-anchor="middle" transform="translate(644,2560) rotate(-32)">树图 shutu.cn</text>
<text class="wm" text-anchor="middle" transform="translate(1925,560) rotate(-32)">树图 shutu.cn</text>
<text class="wm" text-anchor="middle" transform="translate(1925,1560) rotate(-32)">树图 shutu.cn</text>
<text class="wm" text-anchor="middle" transform="translate(1925,2560) rotate(-32)">树图 shutu.cn</text>
</g>
</svg>
